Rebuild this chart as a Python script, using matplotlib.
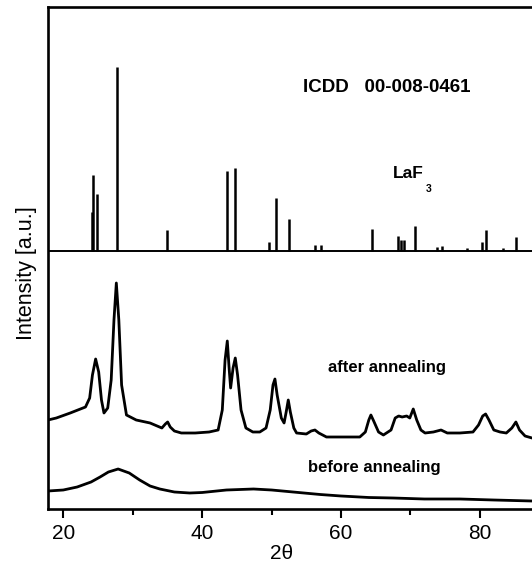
import numpy as np
import matplotlib
matplotlib.use("Agg")
import matplotlib.pyplot as plt

plt.rcParams['font.family'] = ['Liberation Sans', 'DejaVu Sans']

# ICDD 00-008-0461 stick pattern (LaF3): position, height above its baseline
ref_base = 258
ref_pos = [24.09, 24.28, 24.90, 27.69, 34.93, 43.62, 44.77, 49.62, 50.63, 52.45,
           56.19, 57.15, 64.41, 68.15, 68.58, 69.10, 70.64, 73.76, 74.53, 78.08,
           80.24, 80.86, 83.36, 85.18]
ref_h = [39, 76, 57, 184, 21, 80, 83, 9, 53, 32,
         6, 6, 22, 15, 11, 11, 25, 4, 5, 3,
         9, 21, 3, 14]

# after annealing
after_x = [17.8, 19, 21, 23.2, 23.8, 24.2, 24.66, 25.1, 25.5, 25.86, 26.4, 26.9,
           27.3, 27.64, 28.0, 28.4, 29.1, 30.5, 32.5, 34.2, 34.7, 35.03, 35.4, 36,
           37, 39, 41, 42.3, 42.9, 43.3, 43.62, 43.9, 44.1, 44.45, 44.77, 45.1,
           45.6, 46.3, 47.3, 48.3, 49.2, 49.8, 50.2, 50.48, 50.8, 51.4, 51.8, 52.1,
           52.4, 52.7, 53.2, 53.6, 55, 55.7, 56.24, 56.8, 57.9, 60, 62.7, 63.5,
           64.0, 64.3, 64.7, 65.4, 66.1, 67.2, 67.8, 68.3, 68.8, 69.45, 69.9, 70.4,
           70.9, 71.5, 72.1, 73.3, 74.4, 75.3, 77.1, 79, 79.8, 80.4, 80.82, 81.3,
           82.0, 82.9, 83.8, 84.6, 85.18, 85.7, 86.5, 87.5]
after_y = [89, 91, 96, 102, 111, 134, 150, 137, 109, 96, 101, 129,
           189, 226, 189, 124, 94, 89, 86, 81, 85, 87, 82, 78,
           76, 76, 77, 79, 99, 149, 168, 139, 121, 141, 151, 134,
           99, 81, 77, 77, 81, 99, 124, 130, 114, 91, 86, 97,
           109, 97, 81, 76, 75, 78, 79, 76, 72, 72, 72, 77,
           89, 94, 88, 77, 74, 79, 91, 93, 92, 93, 91, 100,
           89, 79, 76, 77, 79, 76, 76, 77, 84, 93, 95, 89,
           79, 77, 76, 81, 87, 79, 73, 71]

# before annealing
before_x = [17.8, 20, 22, 24, 25.3, 26.5, 27.9, 29.5, 31.0, 32.5, 33.9, 36, 38.2,
            40, 43.5, 47.4, 50, 53.1, 57, 60, 64, 67.5, 72, 77.1, 82, 87.5]
before_y = [18, 19, 22, 27, 32, 37, 40, 36, 29, 23, 20, 17, 16,
            16.5, 19, 20, 19, 17, 14.5, 13, 11.5, 11, 10, 10, 9, 8]

fig = plt.figure(figsize=(5.32, 5.63), dpi=100)
ax = fig.add_axes([48 / 532, 54 / 563, 484 / 532, 502 / 563])

ax.plot(after_x, after_y, color='black', lw=2.0)
ax.plot(before_x, before_y, color='black', lw=2.0)
ax.axhline(ref_base, color='black', lw=1.4)
ax.vlines(ref_pos, ref_base, np.array(ref_h) + ref_base, color='black', lw=1.8)

ax.set_xlim(17.8, 87.5)
ax.set_ylim(0, 502)

ax.set_xticks([20, 40, 60, 80])
ax.set_xticks([30, 50, 70], minor=True)
ax.set_yticks([])
ax.tick_params(axis='x', which='major', direction='out', length=6.5, width=1.5,
               labelsize=15, pad=4)
ax.tick_params(axis='x', which='minor', direction='out', length=4.3, width=1.5)
for side in ['left', 'top', 'bottom']:
    ax.spines[side].set_linewidth(1.9)
ax.spines['right'].set_visible(False)

ax.set_xlabel('2θ', fontsize=15)
ax.xaxis.set_label_coords(0.483, -0.07)
ax.set_ylabel('Intensity [a.u.]', fontsize=15.5)
ax.yaxis.set_label_coords(-0.022, 0.47)

ax.text(54.5, 422, 'ICDD   00-008-0461', fontsize=13.5, fontweight='bold', va='center')
ax.text(67.45, 335, 'LaF', fontsize=12.5, fontweight='bold', va='center')
ax.text(72.2, 320, '3', fontsize=7.5, fontweight='bold', va='center')
ax.text(58.1, 137, 'after annealing', fontsize=12, fontweight='bold', va='baseline')
ax.text(55.2, 37, 'before annealing', fontsize=12, fontweight='bold', va='baseline')

fig.savefig('out.png', dpi=100)
